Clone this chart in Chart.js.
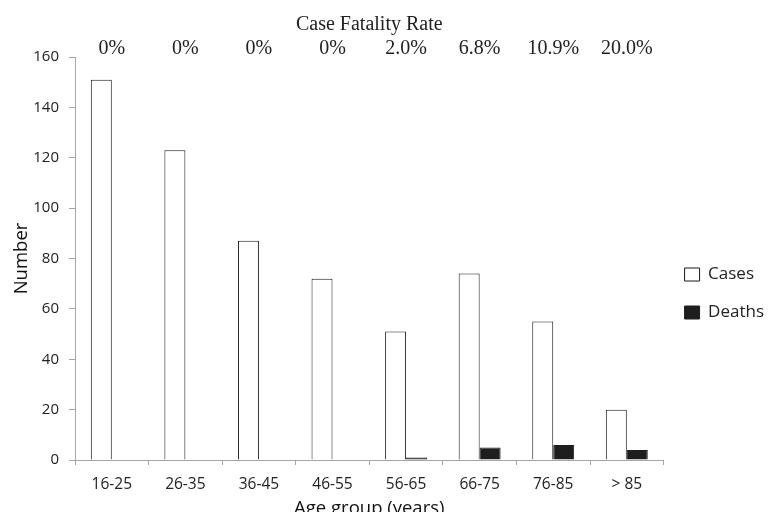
<!DOCTYPE html>
<html>
<head>
<meta charset="utf-8">
<script src="https://cdn.jsdelivr.net/npm/chart.js@4/dist/chart.umd.min.js"></script>
<style>
  html, body { margin: 0; background: #fff; overflow: hidden; }
  #wrap { width: 771px; height: 522px; }
</style>
</head>
<body>
<div id="wrap"><canvas id="myChart" width="771" height="522"></canvas></div>
<script>
// Chart data
const ageGroups = ['16-25', '26-35', '36-45', '46-55', '56-65', '66-75', '76-85', '> 85'];
const cases = [151, 123, 87, 72, 51, 74, 55, 20];
const deaths = [0, 0, 0, 0, 1, 5, 6, 4];
const fatalityRates = ['0%', '0%', '0%', '0%', '2.0%', '6.8%', '10.9%', '20.0%'];
const yTicks = [0, 20, 40, 60, 80, 100, 120, 140, 160];

const sansFont = "'Open Sans', sans-serif";
const serifFont = "'Liberation Serif', 'Times New Roman', serif";
const axisGrey = '#a6a6a6';

var ctx = document.getElementById('myChart').getContext('2d');
var myChart = new Chart(ctx, {
    type: 'bar',
    data: {
        labels: ageGroups,
        datasets: [{
            label: 'Cases',
            data: cases,
            backgroundColor: '#ffffff',
            borderColor: '#1a1a1a',
            borderWidth: 1,
            categoryPercentage: 0.57,
            barPercentage: 1.0
        }, {
            label: 'Deaths',
            data: deaths,
            backgroundColor: '#1e1e1e',
            borderColor: '#1e1e1e',
            borderWidth: 1,
            categoryPercentage: 0.57,
            barPercentage: 1.0
        }]
    },
    options: {
        responsive: false,
        animation: false,
        layout: { padding: { left: 9, right: -3, top: 15, bottom: 0 } },
        plugins: {
            legend: {
                position: 'right',
                // empty title only pushes the legend items down a bit
                title: { display: true, text: ' ', font: { size: 10 }, padding: { top: 38, bottom: 0 } },
                labels: {
                    boxWidth: 15,
                    boxHeight: 13,
                    padding: 21,
                    color: '#222',
                    font: { family: sansFont, size: 17 }
                }
            },
            tooltip: { enabled: false }
        },
        scales: {
            x: {
                position: 'bottom',
                afterFit: function(axis) { axis.height = 62; },
                grid: { drawOnChartArea: false, color: axisGrey, tickLength: 5 },
                border: { color: axisGrey },
                ticks: { color: '#222', font: { family: sansFont, size: 15.5 }, padding: 10 },
                title: {
                    display: true,
                    text: 'Age group (years)',
                    color: '#111',
                    font: { family: sansFont, size: 18.5 },
                    padding: { top: 8, bottom: 2 }
                }
            },
            x2: {
                type: 'category',
                labels: fatalityRates,
                position: 'top',
                offset: true,
                grid: { display: false, drawTicks: false },
                border: { display: false },
                ticks: { color: '#222', font: { family: serifFont, size: 20, lineHeight: 0.8 }, padding: 0 },
                title: {
                    display: true,
                    text: 'Case Fatality Rate',
                    color: '#222',
                    font: { family: serifFont, size: 20, lineHeight: 1 },
                    padding: { top: 0, bottom: 6 }
                }
            },
            y: {
                min: 0,
                max: 160,
                afterBuildTicks: function(axis) {
                    axis.ticks = yTicks.map(function(v) { return { value: v }; });
                },
                afterFit: function(axis) { axis.width = 66; },
                grid: { drawOnChartArea: false, color: axisGrey, tickLength: 6 },
                border: { color: axisGrey },
                ticks: { color: '#222', font: { family: sansFont, size: 15 }, padding: 10 },
                title: {
                    display: true,
                    text: 'Number',
                    color: '#111',
                    font: { family: sansFont, size: 18.5 },
                    padding: { top: 2, bottom: 0 }
                }
            }
        }
    }
});
</script>
</body>
</html>
